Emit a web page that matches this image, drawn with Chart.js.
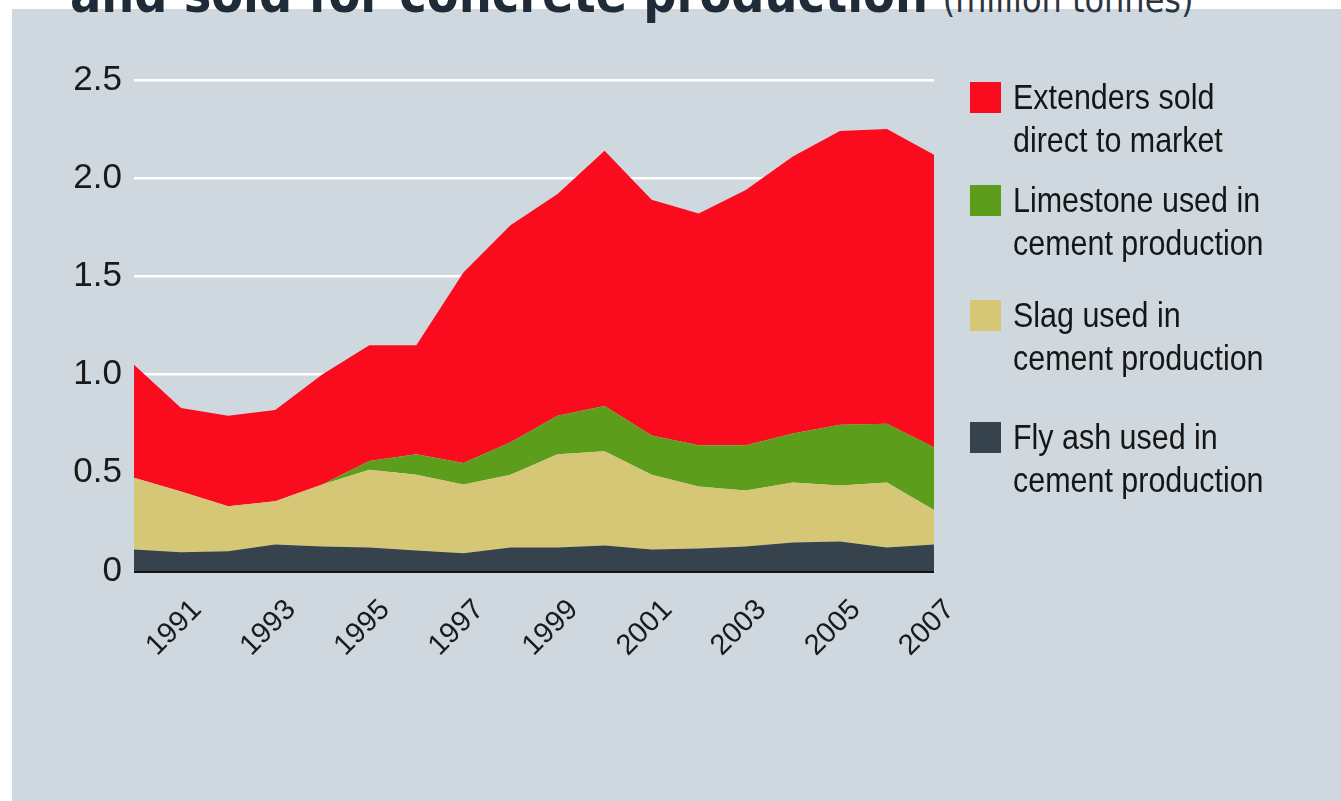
<!DOCTYPE html>
<html>
<head>
<meta charset="utf-8">
<script src="https://cdn.jsdelivr.net/npm/chart.js@4.4.1/dist/chart.umd.min.js"></script>
<style>
  html, body { margin: 0; padding: 0; background: #ffffff; }
  body { width: 1341px; height: 801px; position: relative; overflow: hidden;
         font-family: "Liberation Sans", Arial, sans-serif; }
  #panel { position: absolute; left: 12px; top: 9px; right: 0; bottom: 0; background: #cfd8de; }
  #title { position: absolute; left: 70px; top: 0; white-space: nowrap; line-height: 1; color: #1f2b37;
           font-family: "DejaVu Sans Condensed", "Liberation Sans", sans-serif; }
  #title .main { font-weight: bold; }
  #title .unit { font-weight: normal; color: #2b3540; }
  #chartBox { position: absolute; left: 0; top: 0; width: 1341px; height: 801px; }
  #legend { position: absolute; left: 970px; top: 0; color: #161616; }
  .item { position: absolute; left: 0; white-space: nowrap; }
  .swatch { position: absolute; left: 0; width: 31px; height: 31px; }
  .label { position: absolute; left: 43px; font-size: 35px; line-height: 43px;
           transform: scaleX(0.87); transform-origin: 0 0; }
</style>
</head>
<body>
<div id="panel"></div>
<div id="title"><span class="main">and sold for concrete production</span> <span class="unit">(million tonnes)</span></div>
<div id="chartBox"><canvas id="chart" width="1341" height="801"></canvas></div>
<div id="legend"></div>
<script>
// Years on the horizontal axis
const years = ['1990','1991','1992','1993','1994','1995','1996','1997','1998',
               '1999','2000','2001','2002','2003','2004','2005','2006','2007'];

// Million tonnes per year, stacked from the bottom up
const flyAsh    = [0.11, 0.095, 0.10, 0.135, 0.125, 0.12, 0.105, 0.09, 0.12,
                   0.12, 0.13, 0.11, 0.115, 0.125, 0.145, 0.15, 0.12, 0.135];
const slag      = [0.365, 0.31, 0.23, 0.22, 0.315, 0.395, 0.385, 0.35, 0.37,
                   0.475, 0.48, 0.38, 0.315, 0.285, 0.305, 0.285, 0.33, 0.175];
const limestone = [0, 0, 0, 0, 0, 0.045, 0.105, 0.11, 0.165,
                   0.195, 0.23, 0.20, 0.21, 0.23, 0.25, 0.31, 0.30, 0.32];
const extenders = [0.575, 0.425, 0.46, 0.465, 0.56, 0.59, 0.555, 0.97, 1.105,
                   1.13, 1.30, 1.20, 1.18, 1.30, 1.41, 1.495, 1.50, 1.49];

// Y axis tick values
const yTicks = [0, 0.5, 1.0, 1.5, 2.0, 2.5];

// Legend entries, top to bottom
const legendItems = [
  { lines: ['Extenders sold', 'direct to market'],      color: '#fa0b1e', top: 75 },
  { lines: ['Limestone used in', 'cement production'],  color: '#5c9e1c', top: 178 },
  { lines: ['Slag used in', 'cement production'],       color: '#d6c776', top: 293 },
  { lines: ['Fly ash used in', 'cement production'],    color: '#36424c', top: 415 }
];

const COLORS = { fly: '#36424c', slag: '#d6c776', lime: '#5c9e1c', ext: '#fa0b1e' };
const FONT = '"Liberation Sans", Arial, sans-serif';

// Title sizing: fit the bold part and the unit to their widths, baseline at y = 13
(function layoutTitle() {
  const title = document.getElementById('title');
  const main = title.querySelector('.main');
  const unit = title.querySelector('.unit');
  main.style.fontSize = '60px';
  unit.style.fontSize = '45px';
  const wMain = main.getBoundingClientRect().width;
  const fsMain = 60 * 858 / wMain;
  main.style.fontSize = fsMain.toFixed(2) + 'px';
  const wUnit = unit.getBoundingClientRect().width;
  const fsUnit = 45 * 251 / wUnit;
  unit.style.fontSize = fsUnit.toFixed(2) + 'px';
  title.style.fontSize = fsMain.toFixed(2) + 'px';
  title.style.top = (13 - 0.8465 * fsMain).toFixed(1) + 'px';
})();

// Legend
(function buildLegend() {
  const legend = document.getElementById('legend');
  legendItems.forEach(it => {
    const item = document.createElement('div');
    item.className = 'item';
    item.style.top = it.top + 'px';
    const sw = document.createElement('div');
    sw.className = 'swatch';
    sw.style.background = it.color;
    sw.style.top = '7px';
    const lb = document.createElement('div');
    lb.className = 'label';
    lb.innerHTML = it.lines.join('<br>');
    item.appendChild(sw);
    item.appendChild(lb);
    legend.appendChild(item);
  });
})();

function area(label, data, color, fill) {
  return {
    label, data, fill,
    backgroundColor: color,
    borderColor: color,
    borderWidth: 0,
    pointRadius: 0,
    tension: 0
  };
}

new Chart(document.getElementById('chart'), {
  type: 'line',
  data: {
    labels: years,
    datasets: [
      area('Fly ash used in cement production', flyAsh, COLORS.fly, 'origin'),
      area('Slag used in cement production', slag, COLORS.slag, '-1'),
      area('Limestone used in cement production', limestone, COLORS.lime, '-1'),
      area('Extenders sold direct to market', extenders, COLORS.ext, '-1')
    ]
  },
  options: {
    responsive: false,
    animation: false,
    layout: { padding: { left: 0, top: 80, right: 407, bottom: 0 } },
    plugins: { legend: { display: false }, tooltip: { enabled: false } },
    elements: { line: { borderWidth: 0 } },
    scales: {
      x: {
        type: 'category',
        offset: false,
        grid: { display: false },
        border: { display: false },
        afterFit: s => { s.height = 230; },
        ticks: {
          autoSkip: false,
          minRotation: 45,
          maxRotation: 45,
          padding: 14,
          labelOffset: 16,
          color: '#1a1a1a',
          font: { family: FONT, size: 29 },
          callback: function (v, i) { return (+years[i]) % 2 === 1 ? years[i] : ''; }
        }
      },
      y: {
        stacked: true,
        min: 0,
        max: 2.5,
        z: 1,
        afterFit: s => { s.width = 134; },
        afterBuildTicks: s => { s.ticks = yTicks.map(v => ({ value: v })); },
        border: { display: false },
        grid: {
          drawTicks: false,
          color: c => c.tick && c.tick.value === 0 ? '#141414' : '#ffffff',
          lineWidth: c => c.tick && c.tick.value === 0 ? 3 : 2.5
        },
        ticks: {
          padding: 12,
          color: '#1a1a1a',
          font: { family: FONT, size: 35 },
          callback: v => v === 0 ? '0' : v.toFixed(1)
        }
      }
    }
  }
});
</script>
</body>
</html>
